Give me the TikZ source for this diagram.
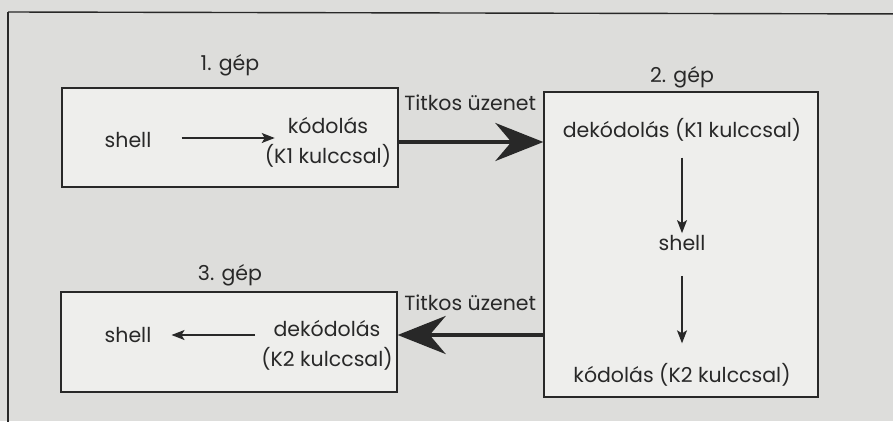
\documentclass[tikz,border=0pt]{standalone}
\usepackage{fontspec}
\setmainfont{Poppins}
\usetikzlibrary{arrows.meta}
\definecolor{bg}{RGB}{221,221,219}
\definecolor{boxfill}{RGB}{238,238,236}
\definecolor{ink}{RGB}{40,40,40}
\begin{document}
\begin{tikzpicture}[x=1pt,y=-1pt,
  txt/.style={inner sep=0pt,font=\fontsize{20.5}{30}\selectfont,text=ink,align=center},
  machine/.style={draw=ink,line width=1.3pt,fill=boxfill,inner sep=0pt},
  thinarrow/.style={draw=ink,line width=1.3pt,-{Stealth[length=13pt,width=10pt,inset=3pt]}},
  bigarrow/.style={draw=ink,line width=4pt,-{Stealth[length=48pt,width=38pt,inset=16pt]}}]
\useasboundingbox (0,0) rectangle (893,421);
\fill[bg] (0,0) rectangle (893,421);
\clip (0,0) rectangle (893,421);
\draw[ink,line width=1.4pt] (8,12) -- (920,14);
\draw[ink,line width=1.4pt] (8,12) -- (8,430);
% boxes
\node[machine,minimum width=336pt,minimum height=99pt] (b1) at (230,137.5) {};
\node[machine,minimum width=274pt,minimum height=305pt] (b2) at (681,244.5) {};
\node[machine,minimum width=336pt,minimum height=100pt] (b3) at (229,342) {};
% titles
\node[txt] (t1) at (230,65) {1. gép};
\node[txt] (t2) at (682,77) {2. gép};
\node[txt] (t3) at (230,275) {3. gép};
% box 1
\node[txt] (s1) at (128,140) {shell};
\node[txt] (k1) at (328,142) {kódolás\\(K1 kulccsal)};
\draw[thinarrow,shorten <=30pt,shorten >=-10pt] (s1.east |- 0,138) -- (k1.west |- 0,138);
% box 2
\node[txt] (d2) at (682,130) {dekódolás (K1 kulccsal)};
\node[txt] (s2) at (682,243) {shell};
\node[txt] (k2) at (682,375) {kódolás (K2 kulccsal)};
\draw[thinarrow,shorten <=16pt,shorten >=2pt] (d2.south) -- (s2.north);
\draw[thinarrow,shorten <=25pt,shorten >=20pt] (s2.south) -- (k2.north);
% box 3
\node[txt] (s3) at (128,335) {shell};
\node[txt] (dk3) at (327,345) {dekódolás\\(K2 kulccsal)};
\draw[thinarrow,shorten <=6pt,shorten >=20pt] (dk3.west |- 0,335) -- (s3.east |- 0,335);
% message arrows
\draw[bigarrow] ([yshift=-4.5pt]b1.east) -- ([yshift=-4.5pt]b1.east -| b2.west);
\draw[bigarrow] ([yshift=7pt]b3.east -| b2.west) -- ([yshift=7pt]b3.east);
\node[txt,anchor=south east] (m1) at ([xshift=-7pt]b2.north west |- 0,111) {Titkos üzenet};
\node[txt,anchor=south east] (m2) at ([xshift=-7pt]b2.west |- 0,311) {Titkos üzenet};
\end{tikzpicture}
\end{document}
